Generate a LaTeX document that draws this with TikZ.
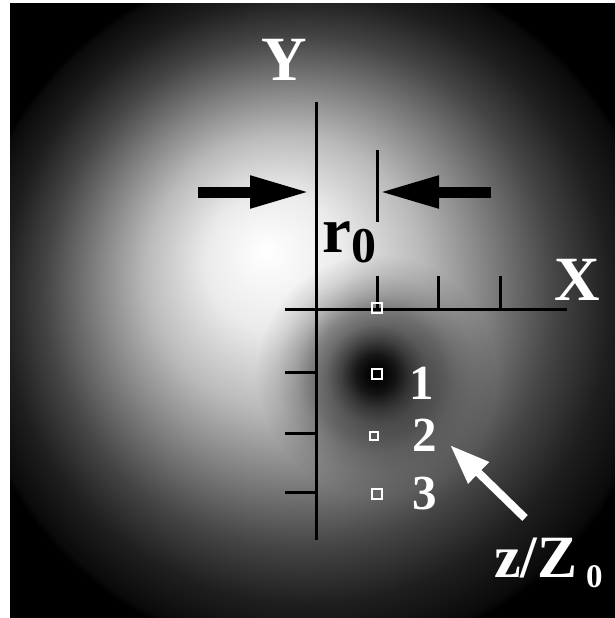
\documentclass[tikz,border=0pt]{standalone}
\usepackage{fontspec}
\setmainfont{Liberation Serif}
\usetikzlibrary{arrows.meta,fadings}
% path bbox half-size maps to 25bp; outer (black) circle sits at 16.67bp
\pgfdeclareradialshading{beam}{\pgfpoint{-6.96bp}{8.26bp}}{%
 color(0bp)=(white);
 color(3.33bp)=(black!8);
 color(6.67bp)=(black!27);
 color(9.17bp)=(black!47);
 color(12.33bp)=(black!73);
 color(14.67bp)=(black!88);
 color(16.67bp)=(black!96);
 color(17bp)=(black);
 color(50bp)=(black)}
\pgfdeclareradialshading{spotshade}{\pgfpointorigin}{%
 color(0bp)=(white);
 color(2.1bp)=(black!4);
 color(4.15bp)=(black!12);
 color(7.3bp)=(black!33);
 color(10.4bp)=(black!50);
 color(13.55bp)=(black!60);
 color(16.65bp)=(black!75);
 color(20.85bp)=(black!90);
 color(25bp)=(black);
 color(50bp)=(black)}
\pgfdeclarefading{spotfade}{\pgfuseshading{spotshade}}
\tikzset{
  axline/.style={line width=3pt, line cap=butt},
  sq/.style={draw=white, line width=2pt, minimum size=10pt, inner sep=0pt, rectangle},
  sqs/.style={draw=white, line width=2pt, minimum size=8pt, inner sep=0pt, rectangle},
  bigarrow/.style={line width=11pt, -{Triangle[length=60pt,width=30pt]}},
  wharrow/.style={white, line width=8pt, -{Triangle[length=40pt,width=28pt]}},
  biglab/.style={inner sep=0pt, text=white, font=\fontsize{63}{63}\selectfont\bfseries},
  numlab/.style={inner sep=0pt, text=white, font=\fontsize{49}{49}\selectfont\bfseries},
}
\begin{document}
\begin{tikzpicture}[x=1pt,y=-1pt]
\useasboundingbox (0,0) rectangle (615,618);
\fill[white] (0,0) rectangle (615,618);
\fill[black] (10,4) rectangle (615,618);
\begin{scope}
  \clip (10,4) rectangle (615,618);
  \shade[shading=beam] (-108.5,-96.5) rectangle (926.5,938.5);
  \fill[black, path fading=spotfade] (376,374) circle (120);
\end{scope}
% axes
\coordinate (yt) at (316,102);
\coordinate (yb) at (316,540);
\coordinate (xl) at (285,309);
\coordinate (xr) at (567,309);
\draw[axline] (yt) -- (yb);
\draw[axline] (xl) -- (xr);
% x ticks
\foreach \x [count=\i] in {377,438,500}{
  \coordinate (xt\i a) at (\x,276);
  \coordinate (xt\i b) at (\x,309);
  \draw[axline] (xt\i a) -- (xt\i b);
}
% y ticks
\foreach \y [count=\i] in {372,433,492}{
  \coordinate (yt\i a) at (285,\y);
  \coordinate (yt\i b) at (316,\y);
  \draw[axline] (yt\i a) -- (yt\i b);
}
% r0 marker
\coordinate (ma) at (377,150);
\coordinate (mb) at (377,222);
\draw[axline] (ma) -- (mb);
% big arrows
\coordinate (la) at (198,192);
\coordinate (lt) at (310,192);
\coordinate (ra) at (491,192);
\coordinate (rt) at (379,192);
\draw[bigarrow] (la) -- (lt);
\draw[bigarrow] (ra) -- (rt);
% squares
\node[sq] (s0) at (377,308) {};
\node[sq] (s1) at (377,374) {};
\node[sqs] (s2) at (374,436) {};
\node[sq] (s3) at (377,494) {};
% labels
\node[biglab, anchor=base] (ylab) at (284,81) {Y};
\node[biglab, anchor=base] (xlab) at (577,300) {X};
\node[inner sep=0pt, anchor=base west, font=\fontsize{65}{65}\selectfont\bfseries] (rlab) at (322,252) {r};
\node[inner sep=0pt, anchor=base west, font=\fontsize{50}{50}\selectfont\bfseries] (r0lab) at (351,262) {0};
\node[numlab, anchor=base] (n1) at (422,399) {1};
\node[numlab, anchor=base] (n2) at (425,451) {2};
\node[numlab, anchor=base] (n3) at (425,509) {3};
\node[inner sep=0pt, text=white, anchor=base west, font=\fontsize{60}{60}\selectfont\bfseries] (zlab) at (494,577) {z/Z};
\node[inner sep=0pt, text=white, anchor=base west, font=\fontsize{33}{33}\selectfont\bfseries] (z0lab) at (586,587) {0};
% white arrow
\coordinate (wt) at (525,518);
\coordinate (wh) at (450,445);
\draw[wharrow] (wt) -- (wh);
\end{tikzpicture}
\end{document}
